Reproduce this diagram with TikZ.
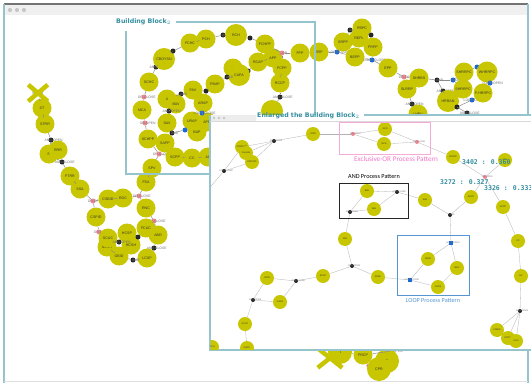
\documentclass[tikz,border=0pt]{standalone}
\usepackage{fontspec}
\setmainfont{Liberation Sans}
\newfontfamily\ttlfont{DejaVu Sans}
\newfontfamily\calfont{Carlito}
\newfontfamily\monofnt{DejaVu Sans Mono}
\usetikzlibrary{shapes.misc}
\definecolor{ylw}{RGB}{200,198,0}
\definecolor{tealf}{RGB}{150,196,204}
\definecolor{tealt}{RGB}{52,142,160}
\definecolor{pnk}{RGB}{240,135,145}
\definecolor{blu}{RGB}{25,105,215}
\definecolor{xorc}{RGB}{246,170,215}
\definecolor{xort}{RGB}{240,120,200}
\definecolor{loopc}{RGB}{85,150,210}
\newcommand\ntxt{\fontsize{3.6}{4}\selectfont}
\newcommand\gtxt{\fontsize{3.4}{4}\selectfont}
\newcommand\itxt{\fontsize{2.3}{2.6}\selectfont}
\begin{document}
\begin{tikzpicture}[x=1pt,y=-1pt,
 yn/.style={circle,fill=ylw,minimum size=19pt,inner sep=0pt,font=\ntxt,text=black!80},
 sn/.style={circle,fill=ylw,minimum size=14pt,inner sep=0pt,font=\itxt,text=black!80},
 gg/.style={circle,minimum size=5pt,inner sep=0pt},
 glab/.style={font=\gtxt,text=black!55,inner sep=0pt,anchor=center},
 ga/.style={gg,fill=black!85,label={[glab]0:#1}},
 go/.style={gg,fill=pnk,label={[glab]0:#1}},
 gl/.style={gg,fill=blu,label={[glab]0:#1}},
 ilab/.style={font=\itxt,text=black!55,inner sep=0pt,anchor=center},
 ia/.style={circle,fill=black!85,minimum size=4pt,inner sep=0pt,label={[ilab]0:#1}},
 io/.style={circle,fill=pnk,minimum size=4pt,inner sep=0pt,label={[ilab]0:#1}},
 il/.style={rectangle,fill=blu,minimum size=3.2pt,inner sep=0pt,label={[ilab]0:#1}},
 ed/.style={draw=black!45,line width=0.5pt},
 ied/.style={draw=black!30,line width=0.3pt},
 xcross/.style={cross out,draw=ylw,line width=4.5pt,minimum width=15pt,minimum height=12pt,inner sep=0pt,font=\ntxt,text=black!80},
 frm/.style={draw=tealf,line width=1.1pt},
 valtxt/.style={font=\monofnt\bfseries\fontsize{6.5}{7}\selectfont,text=tealt,anchor=west,inner sep=0pt}]
\useasboundingbox (0,0) rectangle (531,383);
\fill[white] (0,0) rectangle (531,383);
% outer window
\fill[black!6] (4,4) rectangle (528,15);
\foreach \xx in {10,17,24} \fill[black!22] (\xx,10) circle (2.1);
\draw[draw=black!55,line width=1.3pt] (4,4) -- (528,4);
\draw[frm] (4,4) -- (4,383);
\draw[frm] (528,4) -- (528,383);
\draw[draw=black!12,line width=0.8pt] (4,381) -- (528,381);

% ===== outer nodes =====
\node[xcross] (start) at (38,93) {START};
\node[yn] (st) at (42,108) {ST};
\node[yn] (strr) at (45,124) {STRR};
\node[ga=AND-OPEN] (a1) at (51,140) {};
\node[yn] (r) at (49,154) {R};
\node[yn] (rrr) at (58,150) {RRR};
\node[ga=AND-CLOSE] (a2) at (62,162) {};
\node[yn] (ftrr) at (70,176) {FTRR};
\node[yn] (ssa) at (80,189) {SSA};
\node[go=OR-OPEN] (o1) at (93,201) {};
\node[yn] (csbid) at (108,199) {CSBID};
\node[yn] (roc) at (123,198) {ROC};
\node[go=OR-CLOSE] (o2) at (139,196) {};
\node[yn] (fsa) at (146,182) {FSA};
\node[yn] (spv) at (152,168) {SPV};
\node[yn] (cspid) at (96,217) {CSPID};
\node[yn] (rnc) at (146,208) {RNC};
\node[go=OR-CLOSE] (o3) at (154,221) {};
\node[yn] (fcuc) at (146,228) {FCUC};
\node[yn] (abd) at (158,235) {ABD};
\node[go=OR-OPEN] (o4) at (99,232) {};
\node[yn] (scsh) at (107,247) {SCSH};
\node[yn] (scuc) at (108,238) {SCUC};
\node[yn] (hcsp) at (127,233) {HCSP};
\node[yn] (hcsh) at (131,245) {HCSH};
\node[ga=AND-OPEN] (a3) at (119,242) {};
\node[ga=] (a4) at (138,237) {};
\node[ga=AND-CLOSE] (a5) at (154,248) {};
\node[yn] (gbid) at (119,256) {GBID};
\node[yn] (lcsp) at (147,258) {LCSP};
\node[ga=AND] (a6) at (133,260) {};
% building block
\node[yn] (schpp) at (148,139) {SCHPP};
\node[yn] (sapp) at (165,143) {SAPP};
\node[go=OR-CLOSE] (o5) at (159,154) {};
\node[yn] (scpp) at (175,157) {SCPP};
\node[yn] (cc) at (192,158) {CC};
\node[yn] (ac) at (208,157) {AC};
\node[yn] (mca) at (142,110) {MCA};
\node[go=OR-OPEN] (o6) at (145,123) {};
\node[go=OR-CLOSE] (o7) at (144,97) {};
\node[yn] (schc) at (149,82) {SCHC};
\node[ga=AND-OPEN] (a7) at (156,67) {};
\node[yn,minimum size=22pt] (cboy) at (164,59) {CBOYSN};
\node[ga=] (a8) at (173,51) {};
\node[yn] (fchc) at (190,43) {FCHC};
\node[yn] (pch) at (206,39) {PCH};
\node[ga=AND] (a9) at (223,35) {};
\node[yn,minimum size=22pt] (rch) at (236,35) {RCH};
\node[ga=] (a10) at (250,38) {};
\node[yn] (fchpp) at (265,44) {FCHPP};
\node[yn] (app) at (273,58) {APP};
\node[go=OR] (o8) at (282,53) {};
\node[yn] (fpp) at (300,53) {FPP};
\node[yn] (rcap) at (258,62) {RCAP};
\node[ga=] (a11) at (248,71) {};
\node[yn] (fcpp) at (282,68) {FCPP};
\node[yn] (rccp) at (280,83) {RCCP};
\node[ga=AND-CLOSE] (a12) at (280,97) {};
\node[yn,minimum size=22pt] (n1) at (272,111) {};
\node[yn] (dd) at (233,68) {D};
\node[yn,minimum size=22pt] (capa) at (239,75) {CAPA};
\node[ga=AND] (a13) at (227,77) {};
\node[yn] (pbap) at (215,84) {PBAP};
\node[ga=] (a14) at (206,91) {};
\node[yn] (fav) at (193,90) {FAV};
\node[yn] (arap) at (203,103) {ARAP};
\node[ga=AND] (a15) at (181,94) {};
\node[yn] (aa) at (167,99) {A};
\node[yn] (bav) at (176,104) {BAV};
\node[ga=AND-OPEN] (a16) at (169,111) {};
\node[yn] (sav) at (167,123) {SAV};
\node[yn] (urap) at (192,121) {URAP};
\node[yn] (apr) at (207,122) {APR};
\node[gl=LOOP-CLOSE] (l1) at (202,113) {};
\node[yn] (bap) at (197,132) {BAP};
\node[gl=] (l2) at (185,130) {};
\node[ga=AND] (a17) at (172,133) {};
% top right
\node[yn] (srp) at (319,52) {SRP};
\node[gl=LOOP-CLOSE] (l3) at (337,52) {};
\node[yn] (srpp) at (343,42) {SRPP};
\node[yn] (bepp) at (355,57) {BEPP};
\node[ga=AND] (a18) at (350,30) {};
\node[yn] (rbpc) at (362,28) {RBPC};
\node[yn] (repl) at (359,38) {REPL};
\node[ga=] (a19) at (371,35) {};
\node[yn] (frpp) at (373,47) {FRPP};
\node[gl=LOOP-CLOSE] (l4) at (372,60) {};
\node[yn] (epp) at (388,68) {EPP};
\node[go=OR-OPEN] (o9) at (404,77) {};
\node[yn] (shrbs) at (419,78) {SHRBS};
\node[yn] (slrrp) at (407,89) {SLRRP};
\node[ga=AND] (a20) at (437,80) {};
\node[gl=LOOP] (l5) at (453,80) {};
\node[ga=AND-OPEN] (a21) at (443,91) {};
\node[ga=AND-OPEN] (a22) at (412,104) {};
\node[yn] (lhbv) at (418,114) {LHBV};
\node[yn] (shr1) at (464,72) {SHRRPC};
\node[gl=] (l6) at (477,67) {};
\node[yn,minimum size=21pt] (whr) at (487,72) {WHRRPC};
\node[gl=LOOP-OPEN] (l7) at (490,83) {};
\node[yn] (shr2) at (463,89) {SHRRPC};
\node[yn,minimum size=22pt] (hrran) at (448,101) {HRRAN};
\node[ga=] (a23) at (457,107) {};
\node[gl=LOOP-CLOSE] (l8) at (472,100) {};
\node[yn] (fhr) at (483,93) {F-HRRPC};
\node[ga=AND-CLOSE] (a24) at (467,113) {};
% bottom
\node[xcross,minimum width=20pt,minimum height=15pt] (endn) at (330,358) {END};
\node[yn,minimum size=24pt] (t1) at (340,352) {'T};
\node[yn] (frcp) at (363,355) {FRCP};
\node[go=OR-OPEN] (o10) at (392,351) {};
\node[go=] (o11) at (369,366) {};
\node[yn,minimum size=24pt] (t2) at (387,361) {T};
\node[yn,minimum size=24pt] (cpr) at (379,369) {CPR};

\foreach \a/\b in {start/st,st/strr,strr/a1,a1/r,a1/rrr,r/a2,rrr/a2,a2/ftrr,ftrr/ssa,ssa/o1,o1/csbid,csbid/roc,roc/o2,o2/fsa,fsa/spv,spv/o5,o1/cspid,cspid/o4,o4/scuc,scuc/a3,a3/hcsh,a3/hcsp,hcsp/a4,a4/fcuc,o2/rnc,rnc/o3,o3/fcuc,o3/abd,abd/a5,a5/lcsp,lcsp/a6,a6/gbid,gbid/scsh,
 o5/schpp,o5/scpp,scpp/cc,cc/ac,schpp/o6,o6/mca,mca/o7,o7/schc,schc/a7,a7/cboy,cboy/a8,a8/fchc,fchc/pch,pch/a9,a9/rch,rch/a10,a10/fchpp,fchpp/o8,o8/app,o8/fpp,fpp/srp,srp/l3,l3/srpp,l3/bepp,srpp/a18,a18/rbpc,a18/repl,rbpc/a19,repl/a19,a19/frpp,frpp/l4,bepp/l4,l4/epp,epp/o9,o9/shrbs,o9/slrrp,shrbs/a20,a20/l5,l5/shr1,l5/shr2,shr1/l6,l6/whr,whr/l7,l7/fhr,fhr/l8,l8/a23,a23/hrran,hrran/a21,a21/a20,slrrp/a22,a22/lhbv,a23/a24,
 o8/fcpp,fcpp/rccp,rccp/a12,a12/n1,app/rcap,rcap/a11,a11/capa,capa/a13,a13/pbap,pbap/a14,a14/fav,a14/arap,fav/a15,a15/aa,a15/bav,aa/a16,bav/a16,a16/sav,arap/l1,l1/urap,l1/apr,urap/l2,bap/l2,l2/a17,a17/sapp,sav/a17,
 t1/endn,t1/frcp,frcp/o11,o11/cpr,o10/t2,o10/frcp}
 \draw[ed] (\a) -- (\b);

% building block frame
\draw[frm] (176,22) -- (315,22) -- (315,115);
\draw[frm] (126,31) -- (126,174) -- (210,174);
\node[font=\ttlfont\bfseries\fontsize{6.3}{7}\selectfont,text=tealt,anchor=west,inner sep=0pt] (bbt) at (116,22) {Building Block$_2$};

% enlarged window
\fill[white] (210,115) rectangle (531,350);
\fill[black!7] (210,115) rectangle (256,121);
\foreach \xx in {214,219,224} \fill[black!22] (\xx,118) circle (1.4);
\draw[frm] (210,115) -- (210,350) -- (531,350);
\draw[frm] (364,115) -- (531,115);
\draw[draw=black!15,line width=0.4pt] (210,121) -- (531,121);
\node[font=\ttlfont\bfseries\fontsize{6.3}{7}\selectfont,text=tealt,anchor=west,inner sep=0pt] (ebt) at (257,116) {Enlarged the Building Block$_2$};

\begin{scope}
\clip (210.6,121.5) rectangle (531,349.4);
\node[sn] (e1) at (242,147) {CONINITS};
\node[sn] (e2) at (246,153) {ConInits};
\node[sn] (e3) at (252,162) {CRDSTK};
\node[ia=AND-CLOSE] (eg1) at (224,171) {};
\coordinate (ex) at (206,192);
\node[ia=AND-OPEN] (eg2) at (274,141) {};
\node[sn] (e4) at (313,134) {SCRI};
\node[io=OR-OPEN] (eo1) at (353,134) {};
\node[sn] (e5) at (385,129) {XCR};
\node[sn] (e6) at (384,144) {RCR};
\node[io=OR-CLOSE] (eo2) at (417,142) {};
\node[sn] (e7) at (453,157) {SCRPP};
\node[io=OR-OPEN] (eo3) at (485,177) {};
\node[sn] (e8) at (505,160) {SPV};
\node[sn] (e9) at (471,197) {SAPP};
\node[sn] (e10) at (503,207) {SCPP};
\node[sn] (e11) at (518,241) {CC};
\node[sn] (e12) at (521,276) {AC};
\node[ia=AND-OPEN] (eg3) at (520,311) {};
\node[sn] (e13) at (497,330) {CSBID};
\node[sn] (e14) at (508,338) {CSPID};
\node[sn] (e15) at (516,341) {CSH};
\node[sn] (e16) at (367,191) {BAV};
\node[sn] (e17) at (374,209) {SAV};
\node[ia=AND-OPEN] (eg4) at (350,212) {};
\node[ia=AND-CLOSE] (eg5) at (397,192) {};
\node[sn] (e18) at (425,200) {SAV};
\node[ia=AND] (eg6) at (450,215) {};
\node[il=LOOP-OPEN] (el1) at (451,243) {};
\node[sn] (e19) at (457,268) {BAP};
\node[sn] (e20) at (438,287) {CAPA};
\node[il=LOOP-CLOSE] (el2) at (410,280) {};
\node[sn] (e21) at (428,259) {URAP};
\node[sn] (e22) at (378,277) {ARAP};
\node[sn] (e23) at (345,239) {FAV};
\node[ia=AND-OPEN] (eg7) at (352,266) {};
\node[sn] (e24) at (323,276) {RCAP};
\node[ia=AND-CLOSE] (eg8) at (296,281) {};
\node[sn] (e25) at (267,278) {ICRN};
\node[sn] (e26) at (280,302) {CAPA};
\node[ia=AND-OPEN] (eg9) at (253,300) {};
\node[sn] (e27) at (245,324) {SCHC};
\node[sn] (e28) at (247,348) {CBOY};
\node[sn] (e29) at (212,347) {PCH};
\foreach \a/\b in {eg1/ex,eg1/e1,eg1/e3,e1/eg2,e2/eg2,e3/eg2,eg2/e4,e4/eo1,eo1/e5,eo1/e6,e5/eo2,e6/eo2,eo2/e7,e7/eo3,eo3/e8,eo3/e9,eo3/e10,e9/eg6,e10/e11,e11/e12,e12/eg3,eg3/e13,eg3/e14,eg3/e15,eg4/e16,eg4/e17,e16/eg5,e17/eg5,eg5/e18,e18/eg6,eg6/el1,el1/e19,e19/e20,e20/el2,el2/e21,e21/el1,el2/e22,eg4/e23,e23/eg7,eg7/e22,eg7/e24,e24/eg8,eg8/e25,eg8/e26,e25/eg9,e26/eg9,eg9/e27,e27/e28}
 \draw[ied] (\a) -- (\b);
\end{scope}

% pattern boxes
\draw[draw=xorc,line width=0.8pt] (339,122) rectangle (430,154);
\node[font=\calfont\fontsize{7.2}{8}\selectfont,text=xort,inner sep=0pt] (xorl) at (396,159) {Exclusive-OR Process Pattern};
\draw[draw=black!85,line width=0.8pt] (339,183) rectangle (408,218);
\node[font=\calfont\fontsize{6.2}{7}\selectfont,text=black,inner sep=0pt] (andl) at (374,177) {AND Process Pattern};
\draw[draw=loopc,line width=0.8pt] (397,235) rectangle (469,295);
\node[font=\calfont\fontsize{6.2}{7}\selectfont,text=loopc,inner sep=0pt] (loopl) at (433,301) {LOOP Process Pattern};
\node[valtxt] (v1) at (462,162) {3402 : 0.360};
\node[valtxt] (v2) at (440,182) {3272 : 0.327};
\node[valtxt] (v3) at (484,188) {3326 : 0.333};
\end{tikzpicture}
\end{document}
